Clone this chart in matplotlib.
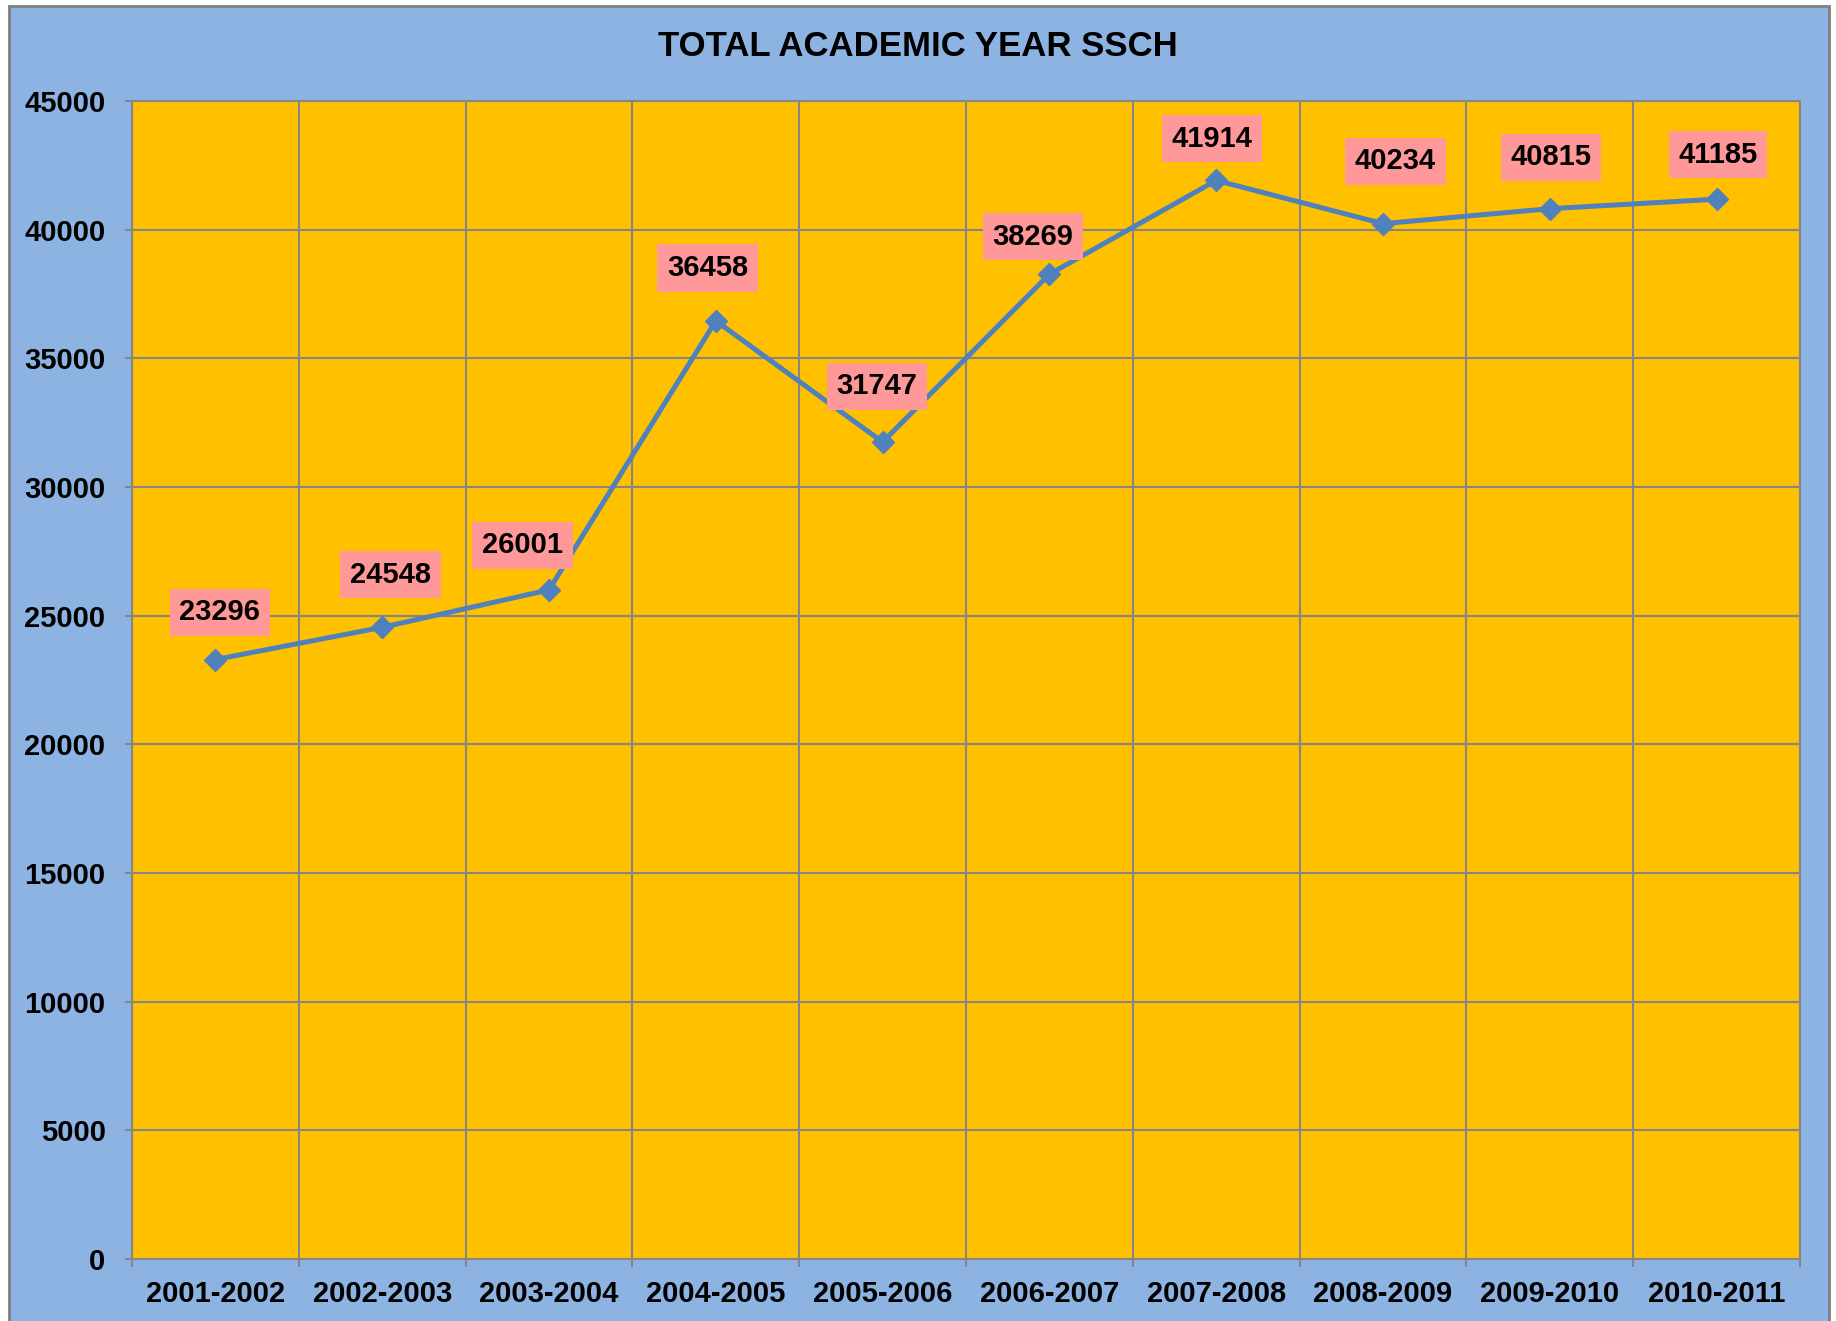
import numpy as np
import matplotlib.pyplot as plt
from matplotlib.patches import Rectangle

# academic year totals
years = ['2001-2002', '2002-2003', '2003-2004', '2004-2005', '2005-2006',
         '2006-2007', '2007-2008', '2008-2009', '2009-2010', '2010-2011']
ssch = [23296, 24548, 26001, 36458, 31747, 38269, 41914, 40234, 40815, 41185]
yticks = [0, 5000, 10000, 15000, 20000, 25000, 30000, 35000, 40000, 45000]

# label offsets in points (labels were nudged by hand in the original)
label_dx = [3, 6, -19, -6, -4, -12, -3, 9, 1, 1]
label_dy = [34, 38, 32, 38, 40, 27, 30, 45, 37, 32]

plt.rcParams['font.family'] = ['Liberation Sans', 'DejaVu Sans']
plt.rcParams['font.weight'] = 'bold'

fig = plt.figure(figsize=(18.36, 13.21), dpi=100)
fig.patch.set_facecolor('white')

# blue chart area with grey border
fig.patches.append(Rectangle((9 / 1836, -0.01), (1829 - 9) / 1836, 1.01 - 6 / 1321,
                             transform=fig.transFigure, facecolor='#8DB3E2',
                             edgecolor='#808080', linewidth=2, zorder=-10))

ax = fig.add_axes([132 / 1836, 1 - 1259 / 1321, (1800 - 132) / 1836, (1259 - 101) / 1321])
ax.set_facecolor('#FFC000')

x = np.arange(len(years)) + 0.5
ax.plot(x, ssch, color='#4F81BD', linewidth=3.6, marker='D', markersize=11,
        markeredgecolor='#4F81BD', markerfacecolor='#4F81BD', zorder=3)

for xi, v, dx, dy in zip(x, ssch, label_dx, label_dy):
    ax.annotate(str(v), (xi, v), xytext=(dx, dy), textcoords='offset points',
                ha='center', va='center', fontsize=21, fontweight='bold',
                bbox=dict(boxstyle='square,pad=0.33', facecolor='#FF9999',
                          edgecolor='none'), zorder=4)

ax.set_xlim(0, len(years))
ax.set_ylim(0, 45000)
ax.set_yticks(yticks)
ax.set_yticklabels([str(t) for t in yticks], fontsize=21, fontweight='bold')

# gridlines at category boundaries, labels at category centres
ax.set_xticks(np.arange(len(years) + 1))
ax.set_xticklabels([])
ax.set_xticks(x, minor=True)
ax.set_xticklabels(years, minor=True, fontsize=21, fontweight='bold')
ax.tick_params(axis='x', which='minor', length=0, pad=15)
ax.tick_params(axis='x', which='major', length=6, width=1.5, color='#868686')
ax.tick_params(axis='y', length=5, width=1.5, color='#868686', pad=14)

ax.grid(True, which='major', color='#868686', linewidth=1.5)
ax.set_axisbelow(True)
for s in ax.spines.values():
    s.set_color('#868686')
    s.set_linewidth(1.5)

fig.text(0.5, 1 - 47 / 1321, 'TOTAL ACADEMIC YEAR SSCH', ha='center', va='center',
         fontsize=25, fontweight='bold')

fig.savefig('out.png', dpi=100, facecolor=fig.get_facecolor())
